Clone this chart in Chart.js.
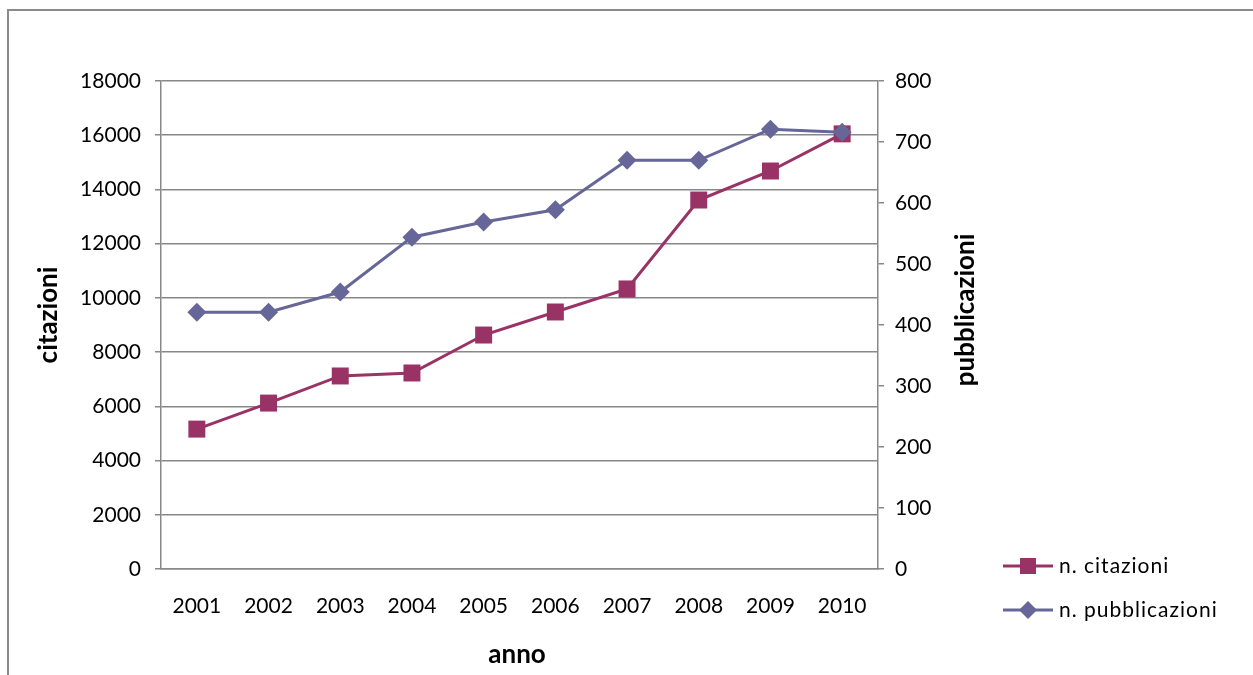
<!DOCTYPE html>
<html>
<head>
<meta charset="utf-8">
<script src="https://cdn.jsdelivr.net/npm/chart.js@4.4.1/dist/chart.umd.min.js"></script>
<style>
  html, body { margin: 0; padding: 0; background: #fff; }
  #wrap { position: relative; width: 1253px; height: 675px; }
</style>
</head>
<body>
<div id="wrap"><canvas id="c" width="1253" height="675"></canvas></div>
<script>
const years = ['2001','2002','2003','2004','2005','2006','2007','2008','2009','2010'];
const citazioni = [5160, 6120, 7120, 7230, 8630, 9480, 10330, 13610, 14680, 16050];
const pubblicazioni = [421, 421, 454, 544, 569, 589, 670, 670, 721, 716];
const leftTicks = [0, 2000, 4000, 6000, 8000, 10000, 12000, 14000, 16000, 18000];
const rightTicks = [0, 100, 200, 300, 400, 500, 600, 700, 800];
const labelCit = 'n. citazioni';
const labelPub = 'n. pubblicazioni';
const titleLeft = 'citazioni';
const titleRight = 'pubblicazioni';
const titleX = 'anno';

const colCit = '#993366';
const colPub = '#666699';
const gridCol = '#888888';
const FONT = 'Lato, "Open Sans", sans-serif';

const overlay = {
  id: 'overlay',
  afterDraw(chart) {
    const ctx = chart.ctx;
    ctx.save();
    // frame
    ctx.strokeStyle = '#8a8a8a';
    ctx.lineWidth = 2;
    ctx.beginPath();
    ctx.moveTo(8, 675);
    ctx.lineTo(8, 10);
    ctx.lineTo(1253, 10);
    ctx.stroke();
    // axis titles
    ctx.fillStyle = '#000';
    ctx.font = 'bold 26px ' + FONT;
    ctx.textAlign = 'center';
    ctx.textBaseline = 'middle';
    ctx.save();
    ctx.translate(49, 315);
    ctx.rotate(-Math.PI / 2);
    ctx.fillText(titleLeft, 0, 0);
    ctx.restore();
    ctx.save();
    ctx.translate(966, 310);
    ctx.rotate(-Math.PI / 2);
    ctx.fillText(titleRight, 0, 0);
    ctx.restore();
    ctx.fillText(titleX, 517, 655);
    // legend
    const items = [
      {label: labelCit, ds: chart.data.datasets[0], y: 566},
      {label: labelPub, ds: chart.data.datasets[1], y: 610}
    ];
    items.forEach(it => {
      ctx.strokeStyle = it.ds.borderColor;
      ctx.lineWidth = 3;
      ctx.beginPath();
      ctx.moveTo(1003, it.y);
      ctx.lineTo(1053, it.y);
      ctx.stroke();
      ctx.fillStyle = it.ds.pointBackgroundColor;
      ctx.beginPath();
      if (it.ds.pointStyle === 'rect') {
        ctx.rect(1028 - 8, it.y - 8, 16, 16);
      } else {
        ctx.moveTo(1028, it.y - 9);
        ctx.lineTo(1037, it.y);
        ctx.lineTo(1028, it.y + 9);
        ctx.lineTo(1019, it.y);
        ctx.closePath();
      }
      ctx.fill();
      ctx.fillStyle = '#000';
      ctx.font = '21px ' + FONT;
      ctx.textAlign = 'left';
      if ('letterSpacing' in ctx) ctx.letterSpacing = '1px';
      ctx.fillText(it.label, 1059, it.y);
      if ('letterSpacing' in ctx) ctx.letterSpacing = '0px';
    });
    ctx.restore();
  }
};

const tickFont = { family: FONT, size: 21 };

new Chart(document.getElementById('c'), {
  type: 'line',
  data: {
    labels: years,
    datasets: [
      {
        label: labelCit,
        data: citazioni,
        yAxisID: 'y',
        borderColor: colCit,
        backgroundColor: colCit,
        pointBackgroundColor: colCit,
        pointBorderColor: colCit,
        pointStyle: 'rect',
        pointRadius: 12,
        pointBorderWidth: 0,
        borderWidth: 3,
        tension: 0,
        order: 1
      },
      {
        label: labelPub,
        data: pubblicazioni,
        yAxisID: 'y1',
        borderColor: colPub,
        backgroundColor: colPub,
        pointBackgroundColor: colPub,
        pointBorderColor: colPub,
        pointStyle: 'rectRot',
        pointRadius: 9.5,
        pointBorderWidth: 0,
        borderWidth: 3,
        tension: 0,
        order: 0
      }
    ]
  },
  options: {
    responsive: false,
    animation: false,
    devicePixelRatio: 1,
    layout: { padding: { left: 0, right: 0, top: 81, bottom: 0 } },
    plugins: {
      legend: { display: false },
      tooltip: { enabled: false },
      title: { display: false }
    },
    scales: {
      x: {
        type: 'category',
        offset: true,
        grid: { display: false, drawTicks: false },
        border: { display: true, color: gridCol, width: 1.5 },
        ticks: { color: '#000', font: tickFont, padding: 25, maxRotation: 0 },
        afterFit(s) { s.height = 106; }
      },
      y: {
        position: 'left',
        min: 0, max: 18000,
        afterBuildTicks(s) { s.ticks = leftTicks.map(v => ({value: v})); },
        grid: { color: gridCol, lineWidth: 1.5, drawTicks: true, tickLength: 6, tickColor: gridCol },
        border: { display: true, color: gridCol, width: 1.5 },
        ticks: { color: '#000', font: tickFont, padding: 14, callback: v => String(v) },
        afterFit(s) { s.width = 161; }
      },
      y1: {
        position: 'right',
        min: 0, max: 800,
        afterBuildTicks(s) { s.ticks = rightTicks.map(v => ({value: v})); },
        grid: { drawOnChartArea: false, drawTicks: true, tickLength: 6, tickColor: gridCol, color: gridCol, lineWidth: 1.5 },
        border: { display: true, color: gridCol, width: 1.5 },
        ticks: { color: '#000', font: tickFont, padding: 11, callback: v => String(v) },
        afterFit(s) { s.width = 375; }
      }
    }
  },
  plugins: [overlay]
});
</script>
</body>
</html>
